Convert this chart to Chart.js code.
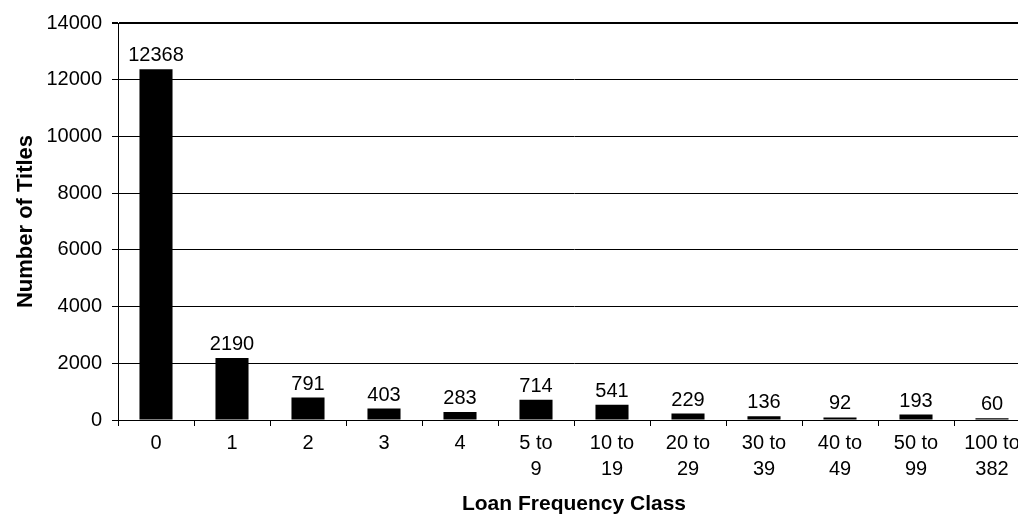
<!DOCTYPE html>
<html>
<head>
<meta charset="utf-8">
<script src="https://cdn.jsdelivr.net/npm/chart.js@4"></script>
<style>
  html, body { margin: 0; padding: 0; background: #fff; overflow: hidden; }
  #wrap { width: 1030px; height: 516px; }
</style>
</head>
<body>
<div id="wrap"><canvas id="myChart"></canvas></div>
<script>
// loan frequency classes and number of titles in each
const categories = ["0", "1", "2", "3", "4", ["5 to", "9"], ["10 to", "19"], ["20 to", "29"],
  ["30 to", "39"], ["40 to", "49"], ["50 to", "99"], ["100 to", "382"]];
const titles = [12368, 2190, 791, 403, 283, 714, 541, 229, 136, 92, 193, 60];
const yTicks = [0, 2000, 4000, 6000, 8000, 10000, 12000, 14000];

const fam = '"Liberation Sans", Arial, Helvetica, sans-serif';

// value labels above each bar
const barLabels = {
  id: "barLabels",
  afterDatasetsDraw(chart) {
    const ctx = chart.ctx;
    const meta = chart.getDatasetMeta(0);
    ctx.save();
    ctx.font = "20px " + fam;
    ctx.fillStyle = "#000";
    ctx.textAlign = "center";
    ctx.textBaseline = "alphabetic";
    meta.data.forEach(function (bar, i) {
      ctx.fillText(String(titles[i]), bar.x, bar.y - 8);
    });
    ctx.restore();
  }
};

var ctx = document.getElementById("myChart").getContext("2d");

const chart = new Chart(ctx, {
  type: "bar",
  data: {
    labels: categories,
    datasets: [{
      label: "Number of Titles",
      data: titles,
      backgroundColor: "#000",
      borderWidth: 0,
      barPercentage: 0.435,
      categoryPercentage: 1
    }]
  },
  options: {
    responsive: true,
    maintainAspectRatio: false,
    animation: false,
    layout: { padding: { top: 23, left: 0, right: 0, bottom: 0 } },
    plugins: {
      legend: { display: false },
      tooltip: { enabled: false }
    },
    scales: {
      x: {
        offset: true,
        grid: {
          offset: true,
          drawOnChartArea: false,
          drawTicks: true,
          tickLength: 6,
          color: "#000"
        },
        border: { display: true, color: "#000", width: 1 },
        ticks: {
          color: "#000",
          padding: 4,
          maxRotation: 0,
          autoSkip: false,
          font: { family: fam, size: 20, lineHeight: 1.3 }
        },
        title: {
          display: true,
          text: "Loan Frequency Class",
          color: "#000",
          padding: { top: 0, bottom: 1 },
          font: { family: fam, size: 21, weight: "bold", lineHeight: 1 }
        },
        afterFit(scale) { scale.height = 96; }
      },
      y: {
        min: 0,
        max: 14000,
        afterBuildTicks(scale) { scale.ticks = yTicks.map(v => ({ value: v })); },
        grid: {
          color: "#000",
          lineWidth: c => (c.tick && c.tick.value === 14000 ? 2 : 1),
          drawTicks: true,
          tickLength: 6
        },
        border: { display: true, color: "#000", width: 1 },
        ticks: {
          color: "#000",
          padding: 10,
          callback: v => String(v),
          font: { family: fam, size: 20 }
        },
        title: {
          display: true,
          text: "Number of Titles",
          color: "#000",
          padding: { top: 13, bottom: 0 },
          font: { family: fam, size: 22, weight: "bold" }
        },
        afterFit(scale) { scale.width = 118; }
      }
    }
  },
  plugins: [barLabels]
});
</script>
</body>
</html>
